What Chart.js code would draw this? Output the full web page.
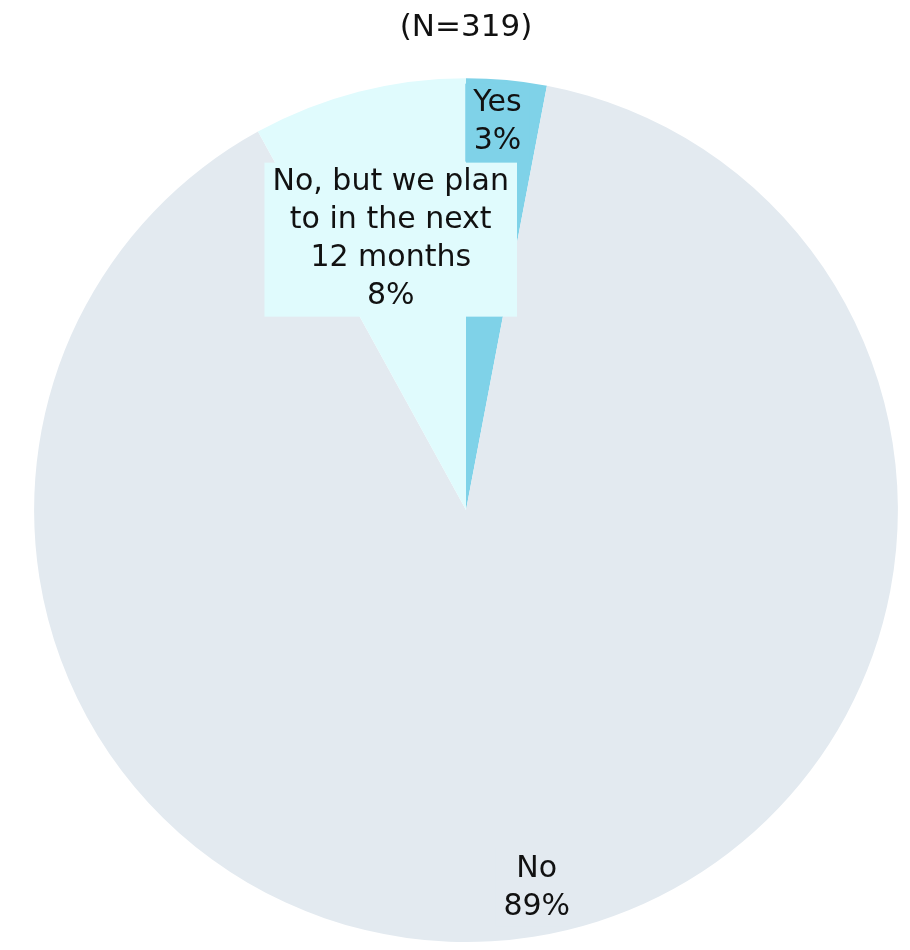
<!DOCTYPE html>
<html lang="en">
  <head>
    <meta charset="UTF-8" />
    <title>Survey Response Pie</title>
    <script src="https://cdn.jsdelivr.net/npm/chart.js"></script>
    <style>
      body { margin: 0; background: #fff; }
      #wrap { width: 910px; height: 950px; }
    </style>
  </head>
  <body>
    <div id="wrap"><canvas id="pieChart"></canvas></div>

    <script>
      // Responses, clockwise from 12 o'clock
      const categories = ['Yes', 'No', ['No, but we plan', 'to in the next', '12 months']];
      const shares = [3, 89, 8];
      const sliceColors = ['#7fd2e8', '#e3eaf0', '#e0fbfd'];
      const sampleTitle = '(N=319)';

      const FONT = '"DejaVu Sans", sans-serif';

      // Data labels with a filled box, placed inside each slice
      const sliceLabels = {
        id: 'sliceLabels',
        afterDatasetsDraw(chart, args, opts) {
          const ctx = chart.ctx;
          const meta = chart.getDatasetMeta(0);
          const data = chart.data.datasets[0].data;
          ctx.save();
          ctx.font = opts.font;
          ctx.textAlign = 'center';
          ctx.textBaseline = 'middle';
          meta.data.forEach((arc, i) => {
            const p = opts.place[i];
            const a = arc.startAngle + (arc.endAngle - arc.startAngle) * p.t;
            const r = arc.outerRadius * p.r;
            const cx = arc.x + Math.cos(a) * r;
            const cy = arc.y + Math.sin(a) * r;
            const name = chart.data.labels[i];
            const lines = (Array.isArray(name) ? name : [name]).concat(data[i] + '%');
            const w = Math.max(...lines.map(l => ctx.measureText(l).width)) + opts.padX * 2;
            const h = lines.length * opts.lineHeight + opts.padY * 2;
            ctx.fillStyle = sliceColors[i];
            ctx.fillRect(cx - w / 2, cy - h / 2, w, h);
            ctx.fillStyle = opts.color;
            lines.forEach((l, k) => {
              ctx.fillText(l, cx, cy - h / 2 + opts.padY + opts.lineHeight * (k + 0.5));
            });
          });
          ctx.restore();
        }
      };

      new Chart(document.getElementById('pieChart'), {
        type: 'pie',
        data: {
          labels: categories,
          datasets: [{
            data: shares,
            backgroundColor: sliceColors,
            borderWidth: 0
          }]
        },
        options: {
          responsive: true,
          maintainAspectRatio: false,
          animation: false,
          layout: { padding: { left: 34, right: 12, bottom: 8 } },
          plugins: {
            legend: { display: false },
            tooltip: { enabled: false },
            title: {
              display: true,
              text: sampleTitle,
              color: '#111',
              font: { family: FONT, size: 31, weight: 'normal' },
              padding: { top: 9, bottom: 32 }
            },
            sliceLabels: {
              font: '30px ' + FONT,
              color: '#111',
              lineHeight: 38,
              padX: 8,
              padY: 1,
              place: [
                { t: 0.43, r: 0.9 },
                { t: 0.495, r: 0.89 },
                { t: 0.46, r: 0.65 }
              ]
            }
          }
        },
        plugins: [sliceLabels]
      });
    </script>
  </body>
</html>
